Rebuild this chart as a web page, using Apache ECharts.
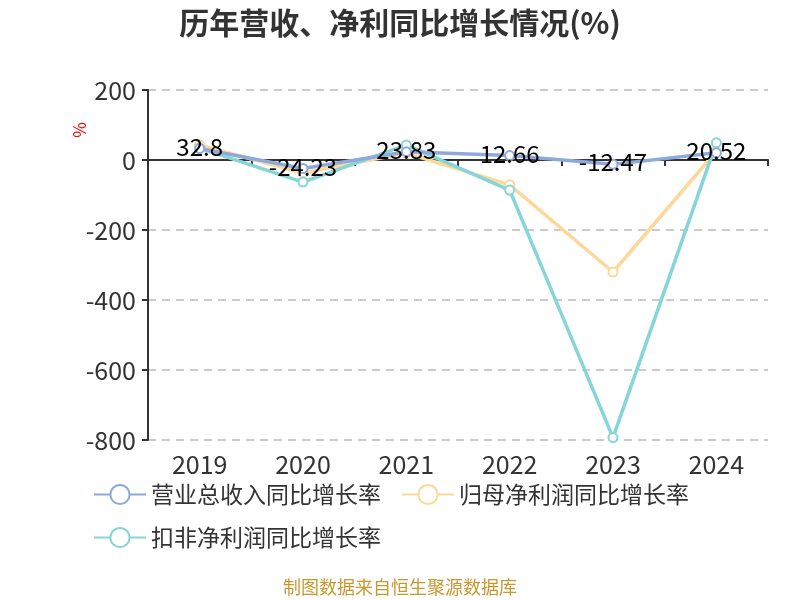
<!DOCTYPE html>
<html><head><meta charset="utf-8">
<script src="https://cdn.jsdelivr.net/npm/echarts@6/dist/echarts.min.js"></script>
<style>html,body{margin:0;padding:0;background:#fff}#c{width:800px;height:600px}</style>
</head><body><div id="c"></div>
<script>
var categories = ['2019','2020','2021','2022','2023','2024'];
var revenueGrowth = [32.8, -24.23, 23.83, 12.66, -12.47, 20.52];
var netProfitGrowth = [43, -37, 20, -71, -320, 25];
var deductedProfitGrowth = [34, -63, 43, -86, -793, 49];
var yTicks = {min: -800, max: 200, interval: 200};

var chart = echarts.init(document.getElementById('c'));
var font = '"Noto Sans CJK SC", "Noto Sans", sans-serif';
function mk(name, data, color, showLabel) {
  return {
    name: name, type: 'line', data: data, xAxisIndex: 0,
    symbol: 'emptyCircle', symbolSize: 9,
    lineStyle: {width: 3.5, color: color},
    itemStyle: {color: color, borderWidth: 2},
    label: showLabel ? {show: true, position: 'inside', offset: [0, -2], color: '#000', fontSize: 24, fontFamily: font} : {show: false},
    z: showLabel ? 3 : 2
  };
}
chart.setOption({
  animation: false,
  textStyle: {fontFamily: font},
  title: {text: '历年营收、净利同比增长情况(%)', left: 'center', top: 3,
    textStyle: {fontSize: 30, fontWeight: 'bold', color: '#333', fontFamily: font}},
  grid: {left: 148, right: 32, top: 90, bottom: 160},
  legend: {left: 88, top: 478, width: 680, itemWidth: 52, itemHeight: 24, itemGap: 20,
    textStyle: {fontSize: 23, color: '#333', fontFamily: font, width: 240},
    data: ['营业总收入同比增长率','归母净利润同比增长率','扣非净利润同比增长率']},
  xAxis: [
    {type: 'category', data: categories, position: 'bottom',
      axisLine: {show: true, onZero: true, lineStyle: {color: '#333', width: 2}},
      axisTick: {show: true, length: 6, lineStyle: {color: '#333', width: 2}},
      axisLabel: {show: false}},
    {type: 'category', data: categories, position: 'bottom', gridIndex: 0,
      axisLine: {show: false, onZero: false}, axisTick: {show: false},
      axisLabel: {show: true, fontSize: 25, color: '#333', margin: 12, fontFamily: font}}
  ],
  yAxis: {type: 'value', min: yTicks.min, max: yTicks.max, interval: yTicks.interval,
    axisLine: {show: true, lineStyle: {color: '#333', width: 2}},
    axisTick: {show: true, length: 6, lineStyle: {color: '#333', width: 2}},
    axisLabel: {fontSize: 25, color: '#333', margin: 12, fontFamily: font},
    splitLine: {lineStyle: {type: [8, 6], color: '#bbb', width: 1.5}}},
  series: [
    mk('营业总收入同比增长率', revenueGrowth, '#8eaadc', true),
    mk('归母净利润同比增长率', netProfitGrowth, '#fdd89b', false),
    mk('扣非净利润同比增长率', deductedProfitGrowth, '#86d5d8', false)
  ],
  graphic: [
    {type: 'text', x: 80, y: 130, rotation: Math.PI / 2,
      style: {text: '%', fill: 'red', fontSize: 17, fontFamily: font, align: 'center', verticalAlign: 'middle'}},
    {type: 'text', left: 'center', top: 578,
      style: {text: '制图数据来自恒生聚源数据库', fill: '#c9972f', fontSize: 18, fontFamily: font}}]
});
</script></body></html>
